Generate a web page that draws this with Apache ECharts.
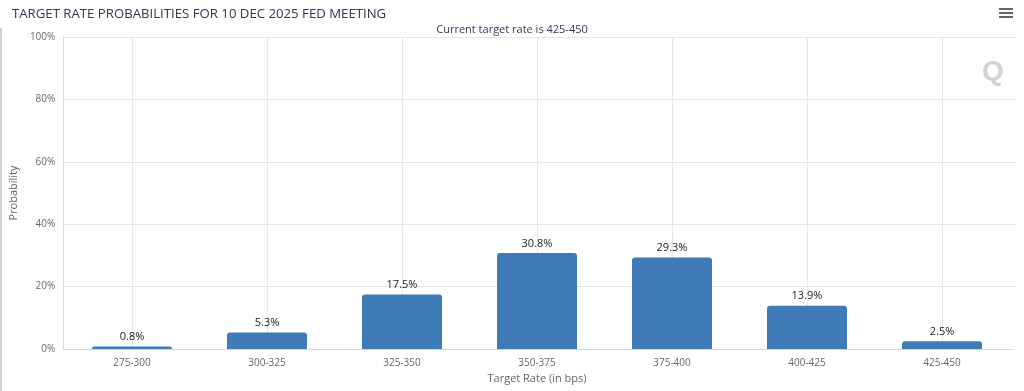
<!DOCTYPE html>
<html>
<head>
<meta charset="utf-8">
<script src="https://cdn.jsdelivr.net/npm/echarts@6/dist/echarts.min.js"></script>
<style>
html,body{margin:0;padding:0;background:#fff;}
#c{width:1024px;height:391px;}
</style>
</head>
<body>
<div id="c"></div>
<script>
const categories = ['275-300','300-325','325-350','350-375','375-400','400-425','425-450'];
const probabilities = [0.8, 5.3, 17.5, 30.8, 29.3, 13.9, 2.5];
const yTicks = [0, 20, 40, 60, 80, 100];

const FONT = '"Open Sans", "Noto Sans", sans-serif';
const chart = echarts.init(document.getElementById('c'), null, {renderer: 'canvas'});
chart.setOption({
  animation: false,
  backgroundColor: '#fff',
  textStyle: {fontFamily: FONT},
  title: [
    {text: 'TARGET RATE PROBABILITIES FOR 10 DEC 2025 FED MEETING', left: 7, top: 3,
     textStyle: {fontFamily: FONT, fontSize: 13.2, fontWeight: 'normal', color: '#2e3650'}},
    {text: 'Current target rate is 425-450', left: 'center', top: 19,
     textStyle: {fontFamily: FONT, fontSize: 11, fontWeight: 'normal', color: '#333a58'}}
  ],
  grid: [
    {left: 64.5, right: 14.5, top: 37, bottom: 42},
    {left: 57, right: 9, top: 37, bottom: 42}
  ],
  xAxis: [
    {type: 'category', gridIndex: 0, data: categories,
     axisLine: {lineStyle: {color: '#ccd6eb'}}, axisTick: {show: false},
     axisLabel: {color: '#666', fontSize: 10, margin: 9, fontFamily: FONT},
     splitLine: {show: true, alignWithLabel: true, lineStyle: {color: '#e6e6e6'}},
     name: 'Target Rate (in bps)', nameLocation: 'middle', nameGap: 23,
     nameTextStyle: {color: '#666', fontSize: 11, fontFamily: FONT}},
    {type: 'value', gridIndex: 1, show: false, min: 0, max: 1}
  ],
  yAxis: [
    {type: 'value', gridIndex: 0, min: 0, max: 100, show: false},
    {type: 'value', gridIndex: 1, min: yTicks[0], max: yTicks[yTicks.length-1], interval: 20,
     axisLine: {show: true, lineStyle: {color: '#d8d8d8'}}, axisTick: {show: false},
     axisLabel: {color: '#666', fontSize: 10, margin: 8, formatter: '{value}%', fontFamily: FONT},
     splitLine: {show: true, lineStyle: {color: '#e6e6e6'}},
     name: 'Probability', nameLocation: 'middle', nameGap: 34, nameRotate: 90,
     nameTextStyle: {color: '#666', fontSize: 11, fontFamily: FONT}}
  ],
  series: [{
    type: 'bar', xAxisIndex: 0, yAxisIndex: 0, data: probabilities, barWidth: 80,
    itemStyle: {color: '#3f7bb6', borderRadius: [3,3,0,0]},
    label: {show: true, position: 'top', distance: 4, color: '#1a1a1a', fontSize: 11,
            fontFamily: FONT, formatter: p => p.value + '%'},
    z: 3
  }],
  graphic: [
    {type: 'rect', left: 999, top: 8, shape: {width: 14, height: 2}, style: {fill: '#666'}},
    {type: 'rect', left: 999, top: 12, shape: {width: 14, height: 2}, style: {fill: '#666'}},
    {type: 'rect', left: 999, top: 16, shape: {width: 14, height: 2}, style: {fill: '#666'}},
    {type: 'text', left: 982, top: 58, style: {text: 'Q', font: 'bold 28px "Liberation Sans", sans-serif', fill: '#d2d2d2'}},
    {type: 'rect', left: 0, top: 28, shape: {width: 2, height: 363}, style: {fill: '#d0d0d0'}}
  ]
});
</script>
</body>
</html>
